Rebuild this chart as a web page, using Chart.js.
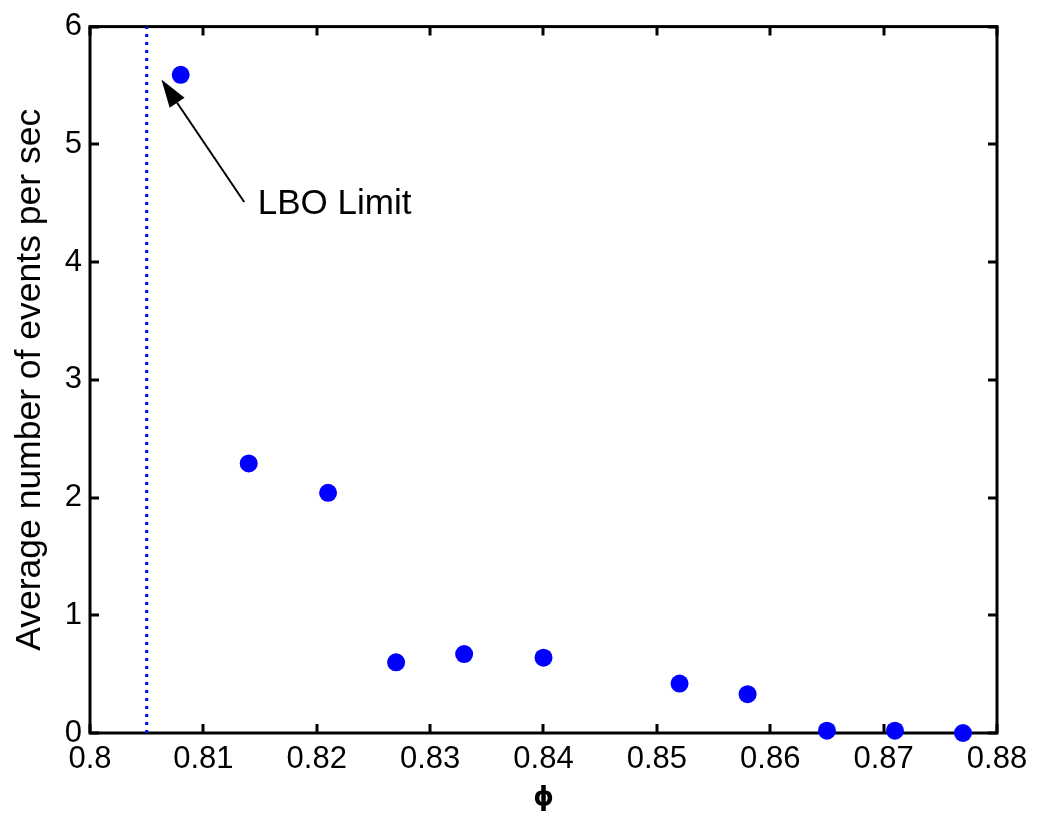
<!DOCTYPE html>
<html>
<head>
<meta charset="utf-8">
<script src="https://cdn.jsdelivr.net/npm/chart.js@4/dist/chart.umd.min.js"></script>
<style>
  html, body { margin: 0; padding: 0; background: #fff; }
  #wrap { width: 1047px; height: 817px; }
</style>
</head>
<body>
<div id="wrap"><canvas id="c" width="1047" height="817"></canvas></div>
<script>
// ---- data ----
const phiValues   = [0.808, 0.814, 0.821, 0.827, 0.833, 0.840, 0.852, 0.858, 0.865, 0.871, 0.877];
const eventRates  = [5.59, 2.29, 2.04, 0.60, 0.67, 0.64, 0.42, 0.33, 0.02, 0.02, 0.0];
const lboLimitPhi = 0.805;
const xTicks = [0.80, 0.81, 0.82, 0.83, 0.84, 0.85, 0.86, 0.87, 0.88];
const yTicks = [0, 1, 2, 3, 4, 5, 6];
const arrowTail = [0.8136, 4.51];
const arrowHead = [0.8063, 5.55];
const annotationText = 'LBO Limit';
const annotationPos = [0.8148, 4.49];

const FONT = 'Liberation Sans, Arial, sans-serif';

const framePlugin = {
  id: 'frame',
  beforeDatasetsDraw(chart) {
    const { ctx, chartArea: a, scales: { x, y } } = chart;
    ctx.save();
    ctx.strokeStyle = '#000';
    ctx.lineWidth = 3;
    const tl = 9;
    ctx.beginPath();
    xTicks.forEach(v => {
      const px = Math.round(x.getPixelForValue(v));
      ctx.moveTo(px, a.bottom); ctx.lineTo(px, a.bottom - tl);
      ctx.moveTo(px, a.top); ctx.lineTo(px, a.top + tl);
    });
    yTicks.forEach(v => {
      const py = Math.round(y.getPixelForValue(v));
      ctx.moveTo(a.left, py); ctx.lineTo(a.left + tl, py);
      ctx.moveTo(a.right, py); ctx.lineTo(a.right - tl, py);
    });
    ctx.stroke();
    ctx.strokeRect(a.left, a.top, a.right - a.left, a.bottom - a.top);
    ctx.restore();
  },
  afterDatasetsDraw(chart) {
    const { ctx, scales: { x, y } } = chart;
    const x1 = x.getPixelForValue(arrowTail[0]), y1 = y.getPixelForValue(arrowTail[1]);
    const x2 = x.getPixelForValue(arrowHead[0]), y2 = y.getPixelForValue(arrowHead[1]);
    const ang = Math.atan2(y2 - y1, x2 - x1);
    const hl = 28, hw = 9;
    ctx.save();
    ctx.strokeStyle = '#000';
    ctx.fillStyle = '#000';
    ctx.lineWidth = 2;
    const bx = x2 - hl * Math.cos(ang), by = y2 - hl * Math.sin(ang);
    ctx.beginPath();
    ctx.moveTo(x1, y1); ctx.lineTo(bx, by);
    ctx.stroke();
    ctx.beginPath();
    ctx.moveTo(x2, y2);
    ctx.lineTo(bx + hw * Math.sin(ang), by - hw * Math.cos(ang));
    ctx.lineTo(bx - hw * Math.sin(ang), by + hw * Math.cos(ang));
    ctx.closePath();
    ctx.fill();
    ctx.font = '35px ' + FONT;
    ctx.textAlign = 'left';
    ctx.textBaseline = 'middle';
    ctx.fillText(annotationText, x.getPixelForValue(annotationPos[0]), y.getPixelForValue(annotationPos[1]));
    ctx.restore();
  }
};

new Chart(document.getElementById('c'), {
  type: 'scatter',
  data: {
    datasets: [
      {
        label: 'LBO limit',
        type: 'line',
        data: [{ x: lboLimitPhi, y: yTicks[0] }, { x: lboLimitPhi, y: yTicks[yTicks.length - 1] }],
        borderColor: '#0000ff',
        borderWidth: 3,
        borderDash: [3, 5],
        pointRadius: 0,
        fill: false
      },
      {
        label: 'Events',
        data: phiValues.map((p, i) => ({ x: p, y: eventRates[i] })),
        backgroundColor: '#0000ff',
        borderWidth: 0,
        pointRadius: 9,
        clip: false
      }
    ]
  },
  options: {
    responsive: false,
    animation: false,
    devicePixelRatio: 1,
    layout: { padding: { left: 0, right: 50, top: 19, bottom: 0 } },
    plugins: { legend: { display: false }, tooltip: { enabled: false } },
    scales: {
      x: {
        type: 'linear',
        min: xTicks[0], max: xTicks[xTicks.length - 1],
        afterBuildTicks: s => { s.ticks = xTicks.map(v => ({ value: v })); },
        afterFit: s => { s.height = 84; },
        grid: { display: false, drawTicks: false },
        border: { display: false },
        ticks: {
          padding: 8,
          color: '#000',
          font: { family: FONT, size: 31 },
          maxRotation: 0,
          callback: v => Number(v.toFixed(2)).toString()
        },
        title: {
          display: true,
          text: 'ϕ',
          color: '#000',
          font: { family: 'DejaVu Sans', size: 26, weight: 'bold' },
          padding: { top: 0, bottom: 3 }
        }
      },
      y: {
        type: 'linear',
        min: yTicks[0], max: yTicks[yTicks.length - 1],
        afterBuildTicks: s => { s.ticks = yTicks.map(v => ({ value: v })); },
        afterFit: s => { s.width = 90; },
        grid: { display: false, drawTicks: false },
        border: { display: false },
        ticks: {
          padding: 8,
          color: '#000',
          font: { family: FONT, size: 31 },
          callback: v => String(v)
        },
        title: {
          display: true,
          text: 'Average number of events per sec',
          color: '#000',
          font: { family: FONT, size: 35.5 },
          padding: { top: 9, bottom: 0 }
        }
      }
    }
  },
  plugins: [framePlugin]
});
</script>
</body>
</html>
